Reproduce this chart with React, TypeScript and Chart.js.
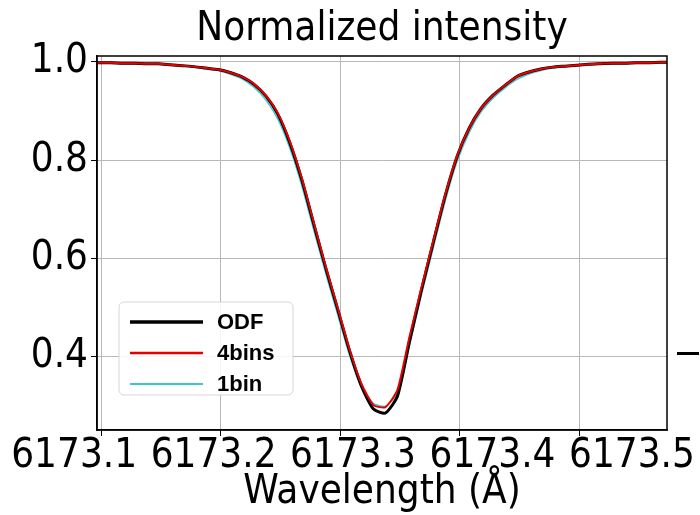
import React, { useEffect, useRef } from "react";
import { Chart, registerables } from "chart.js";

Chart.register(...registerables);

const FONT = "'DejaVu Sans Condensed', 'DejaVu Sans', sans-serif";
const LEGEND_FONT = "'Liberation Sans', Arial, sans-serif";

const titleText = "Normalized intensity";
const xTitleText = "Wavelength (Å)";
const seriesLabels = ["ODF", "4bins", "1bin"];
const seriesColors = ["#000000", "#e60000", "#3cc8cc"];

const xTicks = [6173.1, 6173.2, 6173.3, 6173.4, 6173.5];
const yTicks = [0.4, 0.6, 0.8, 1.0];

const wavelengths = [
  6173.088, 6173.098, 6173.108, 6173.118, 6173.128, 6173.138, 6173.148, 6173.158, 6173.168, 6173.178,
  6173.188, 6173.198, 6173.208, 6173.218, 6173.228, 6173.238, 6173.248, 6173.258, 6173.268, 6173.278,
  6173.288, 6173.298, 6173.308, 6173.318, 6173.328, 6173.338, 6173.348, 6173.358, 6173.368, 6173.378,
  6173.388, 6173.398, 6173.408, 6173.418, 6173.428, 6173.438, 6173.448, 6173.458, 6173.468, 6173.478,
  6173.488, 6173.498, 6173.508, 6173.518, 6173.528, 6173.538, 6173.548, 6173.558, 6173.568, 6173.578,
  6173.588,
];

const odf = [
  0.998, 0.998, 0.998, 0.997, 0.997, 0.996, 0.996, 0.994, 0.992, 0.990,
  0.987, 0.984, 0.978, 0.969, 0.954, 0.930, 0.893, 0.835, 0.760, 0.670,
  0.581, 0.497, 0.412, 0.340, 0.294, 0.286, 0.320, 0.430, 0.535, 0.633,
  0.728, 0.808, 0.865, 0.905, 0.932, 0.952, 0.970, 0.979, 0.985, 0.989,
  0.991, 0.993, 0.995, 0.996, 0.997, 0.997, 0.998, 0.998, 0.999, 0.999,
  0.999,
];

const bins4 = [
  0.998, 0.998, 0.998, 0.997, 0.997, 0.996, 0.996, 0.994, 0.992, 0.990,
  0.987, 0.984, 0.978, 0.969, 0.955, 0.931, 0.895, 0.838, 0.763, 0.673,
  0.584, 0.500, 0.415, 0.345, 0.302, 0.298, 0.333, 0.440, 0.540, 0.636,
  0.730, 0.809, 0.865, 0.905, 0.932, 0.952, 0.970, 0.979, 0.985, 0.989,
  0.991, 0.993, 0.995, 0.996, 0.997, 0.997, 0.998, 0.998, 0.999, 0.999,
  0.999,
];

const bin1 = [
  0.997, 0.997, 0.997, 0.996, 0.996, 0.995, 0.995, 0.993, 0.991, 0.989,
  0.985, 0.982, 0.975, 0.965, 0.948, 0.922, 0.883, 0.824, 0.748, 0.658,
  0.570, 0.486, 0.403, 0.338, 0.305, 0.300, 0.326, 0.423, 0.525, 0.622,
  0.717, 0.798, 0.856, 0.898, 0.926, 0.947, 0.964, 0.975, 0.982, 0.987,
  0.990, 0.992, 0.994, 0.995, 0.996, 0.996, 0.997, 0.997, 0.998, 0.998,
  0.998,
];

const seriesValues = [odf, bins4, bin1];
const plotWidths = [3, 2, 1.5];
const legendWidths = [3.5, 2.5, 2];
const drawOrder = [2, 1, 3];

const overlayPlugin = {
  id: "overlay",
  afterDraw(chart: any) {
    const { ctx, chartArea: a, scales } = chart;
    ctx.save();
    // axes frame
    ctx.strokeStyle = "#000";
    ctx.lineWidth = 1.5;
    ctx.strokeRect(a.left, a.top, a.right - a.left, a.bottom - a.top);

    // x tick labels (spread as in the reference)
    const xs = scales.x;
    const mid = xs.getPixelForValue(xTicks[2]);
    ctx.font = `40px ${FONT}`;
    ctx.fillStyle = "#000";
    ctx.textAlign = "center";
    ctx.textBaseline = "middle";
    xTicks.forEach((v) => {
      const p = xs.getPixelForValue(v);
      const cx = mid + 13 + (p - mid) * 1.167;
      ctx.fillText(v.toFixed(1), cx, a.bottom + 27);
    });

    // legend box
    const bx = a.left + 22;
    const bw = 174;
    const bh = 93;
    const by = a.bottom - 35 - bh;
    const r = 5;
    ctx.beginPath();
    ctx.moveTo(bx + r, by);
    ctx.lineTo(bx + bw - r, by);
    ctx.arcTo(bx + bw, by, bx + bw, by + r, r);
    ctx.lineTo(bx + bw, by + bh - r);
    ctx.arcTo(bx + bw, by + bh, bx + bw - r, by + bh, r);
    ctx.lineTo(bx + r, by + bh);
    ctx.arcTo(bx, by + bh, bx, by + bh - r, r);
    ctx.lineTo(bx, by + r);
    ctx.arcTo(bx, by, bx + r, by, r);
    ctx.closePath();
    ctx.fillStyle = "rgba(255,255,255,0.85)";
    ctx.fill();
    ctx.strokeStyle = "#d6d6d6";
    ctx.lineWidth = 1;
    ctx.stroke();

    ctx.font = `bold 22px ${LEGEND_FONT}`;
    ctx.textAlign = "left";
    ctx.textBaseline = "middle";
    seriesLabels.forEach((lab, i) => {
      const yy = by + 20 + i * 31;
      ctx.beginPath();
      ctx.moveTo(bx + 11, yy);
      ctx.lineTo(bx + 84, yy);
      ctx.strokeStyle = seriesColors[i];
      ctx.lineWidth = legendWidths[i];
      ctx.stroke();
      ctx.fillStyle = "#000";
      ctx.fillText(lab, bx + 98, yy + 1);
    });

    // stray dash at right edge (from neighbouring panel)
    ctx.fillStyle = "#000";
    ctx.fillRect(a.right + 10, a.bottom - 78, 22, 3);
    ctx.restore();
  },
};

export default function App() {
  const ref = useRef<HTMLCanvasElement>(null);
  useEffect(() => {
    const canvas = ref.current!;
    const chart = new Chart(canvas, {
      type: "line",
      data: {
        datasets: seriesLabels.map((lab, i) => ({
          label: lab,
          data: wavelengths.map((w, j) => ({ x: w, y: seriesValues[i][j] })),
          borderColor: seriesColors[i],
          backgroundColor: seriesColors[i],
          borderWidth: plotWidths[i],
          pointRadius: 0,
          tension: 0.2,
          fill: false,
          clip: 0,
          order: drawOrder[i],
          borderJoinStyle: "round" as const,
        })),
      },
      options: {
        responsive: false,
        animation: false,
        devicePixelRatio: 1,
        layout: { padding: { left: 0, right: 33, top: 0, bottom: 0 } },
        plugins: {
          legend: { display: false },
          tooltip: { enabled: false },
          title: {
            display: true,
            text: titleText,
            fullSize: false,
            color: "#000",
            font: { family: FONT, size: 40, weight: "normal", lineHeight: 1.2 },
            padding: { top: 6, bottom: 2 },
          },
        },
        scales: {
          x: {
            type: "linear",
            min: 6173.0966,
            max: 6173.5736,
            afterBuildTicks: (s: any) => {
              s.ticks = xTicks.map((v) => ({ value: v }));
            },
            afterFit: (s: any) => {
              s.height = 85;
            },
            ticks: { display: false },
            grid: { color: "#b8b8b8", lineWidth: 1, tickColor: "#000", tickLength: 6, drawTicks: true },
            border: { color: "#000", width: 1.5 },
            title: {
              display: true,
              text: xTitleText,
              color: "#000",
              font: { family: FONT, size: 40, weight: "normal", lineHeight: 1.1 },
              padding: { top: 35, bottom: 0 },
            },
          },
          y: {
            type: "linear",
            min: 0.2515,
            max: 1.0116,
            afterBuildTicks: (s: any) => {
              s.ticks = yTicks.map((v) => ({ value: v }));
            },
            afterFit: (s: any) => {
              s.width = 97;
            },
            ticks: {
              color: "#000",
              padding: 3,
              font: { family: FONT, size: 40, weight: "normal" },
              callback: (v: any) => Number(v).toFixed(1),
            },
            grid: { color: "#b8b8b8", lineWidth: 1, tickColor: "#000", tickLength: 6, drawTicks: true },
            border: { color: "#000", width: 1.5 },
          },
        },
      },
      plugins: [overlayPlugin],
    });
    return () => chart.destroy();
  }, []);
  return (
    <div style={{ position: "absolute", left: 0, top: 0, width: 700, height: 515, background: "#fff" }}>
      <canvas ref={ref} width={700} height={515} style={{ display: "block", width: 700, height: 515 }} />
    </div>
  );
}
